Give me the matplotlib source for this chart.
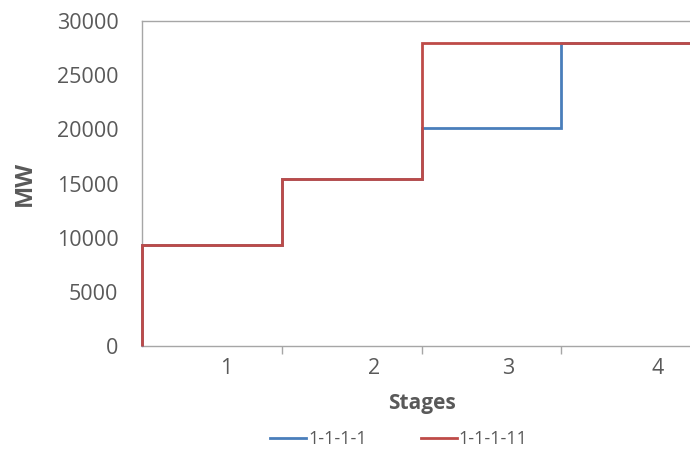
import matplotlib
matplotlib.use('Agg')
import numpy as np
from matplotlib import pyplot as plt

# stage capacity (MW) for the two plans
stages = ['1', '2', '3', '4']
plan_a = [9300, 15400, 20100, 28000]   # 1-1-1-1
plan_b = [9300, 15400, 28000, 28000]   # 1-1-1-11
series_names = ['1-1-1-1', '1-1-1-11']
y_ticks = [0, 5000, 10000, 15000, 20000, 25000, 30000]

plt.rcParams['font.family'] = ['Open Sans', 'DejaVu Sans']
grey_txt = '#595959'
grey_ax = '#a6a6a6'

fig = plt.figure(figsize=(6.9, 4.5), dpi=100)
ax = fig.add_axes([142 / 690, 1 - 346 / 450, 559 / 690, 325 / 450])

edges = np.arange(len(stages) + 1)
ax.stairs(plan_a, edges, baseline=0, color='#4a7ebb', linewidth=2.0,
          label=series_names[0], clip_on=False, zorder=3)
ax.stairs(plan_b, edges, baseline=0, color='#be4b48', linewidth=2.0,
          label=series_names[1], clip_on=False, zorder=4)

ax.set_xlim(0, len(stages))
ax.set_ylim(0, 30000)
ax.set_yticks(y_ticks)
ax.tick_params(axis='y', length=0, labelsize=15.5, labelcolor=grey_txt, pad=17)

# category labels sit a bit right of the band centres, as in the source
label_pos = [0.6, 1.66, 2.62, 3.69]
ax.set_xticks(label_pos)
ax.set_xticklabels(stages)
ax.tick_params(axis='x', which='major', length=0, labelsize=15.5, labelcolor=grey_txt, pad=9)
ax.set_xticks(edges[1:-1], minor=True)
ax.tick_params(axis='x', which='minor', length=6, color=grey_ax, width=1)

for s in ax.spines.values():
    s.set_color(grey_ax)
    s.set_linewidth(1)
    s.set_zorder(1)

ax.set_xlabel('Stages', fontsize=15, fontweight='bold', color=grey_txt, labelpad=10)
ax.set_ylabel('MW', fontsize=17, fontweight='bold', color=grey_txt, labelpad=14)

fig.legend(loc='center', bbox_to_anchor=(399 / 690, 1 - 439 / 450), ncol=2,
           frameon=False, fontsize=13, labelcolor=grey_txt, handlelength=2.0,
           handletextpad=0.1, columnspacing=3.0)

fig.savefig('out.png', dpi=100)
